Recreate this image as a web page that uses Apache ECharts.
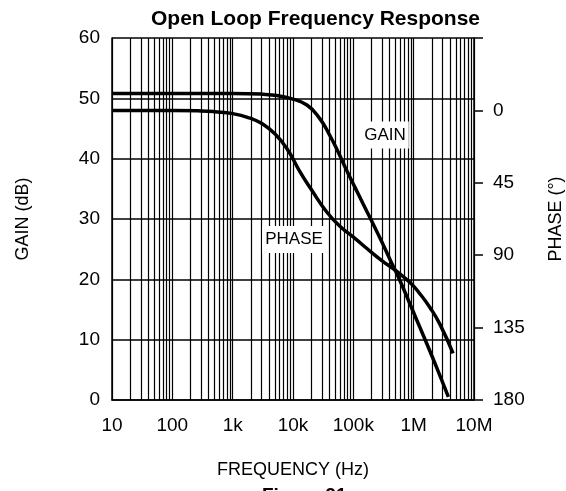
<!DOCTYPE html>
<html>
<head>
<meta charset="utf-8">
<script src="https://cdn.jsdelivr.net/npm/echarts@6/dist/echarts.min.js"></script>
<style>
  html, body { margin: 0; padding: 0; background: #fff; }
  #chart { width: 566px; height: 491px; }
</style>
</head>
<body>
<div id="chart"></div>
<script>
// 读图得到的数据：频率 (Hz) -> 增益 (dB)
const gainFreq = [10, 1000, 3000, 5000, 9000, 17000, 28000, 41000, 56000, 78000, 107000, 147000, 215000, 300000, 405000, 557000, 766000, 1120000, 1640000, 2400000, 3760000]
const gainDb = [50.8, 50.8, 50.7, 50.5, 50, 48.9, 46.6, 43.8, 41.1, 38, 35.2, 32.4, 29.1, 26.1, 23.3, 20.4, 17.2, 13.3, 9.4, 5.4, 0.5]

// 频率 (Hz) -> 相位 (°)
const phaseFreq = [10, 100, 300, 500, 1000, 2000, 3000, 5000, 8000, 13000, 20000, 36000, 60000, 110000, 170000, 300000, 500000, 870000, 1270000, 1860000, 2730000, 4500000]
const phaseDeg = [0, 0, 0.3, 0.8, 2, 5, 8, 14.5, 24, 38, 49, 63, 72, 80, 86, 93.5, 99.5, 107, 114, 122.5, 133, 151]

// 横轴刻度文字（按十倍频）
const freqTickLabels = ['1', '10', '100', '1k', '10k', '100k', '1M', '10M']

// 每个十倍频内 2..9 的细网格线
const minorFreqs = []
for (let d = 10; d < 1e7; d *= 10) {
  for (let m = 2; m <= 9; m++) minorFreqs.push(d * m)
}

const FONT = 'Liberation Sans, Arial, sans-serif'
const chart = echarts.init(document.getElementById('chart'))

chart.setOption({
  animation: false,
  backgroundColor: '#fff',
  title: [
    {
      text: 'Open Loop Frequency Response',
      left: 151,
      top: 9,
      padding: 0,
      textStyle: { fontFamily: FONT, fontSize: 21, fontWeight: 'bold', color: '#000' },
    },
    {
      text: 'Figure 21',
      left: 262,
      top: 486,
      padding: 0,
      textStyle: { fontFamily: FONT, fontSize: 19, fontWeight: 'bold', color: '#000' },
    },
  ],
  grid: { left: 112, right: 92, top: 38, bottom: 91, outerBoundsMode: 'none', containLabel: false },
  xAxis: {
    type: 'log',
    logBase: 10,
    min: 10,
    max: 1e7,
    splitNumber: 6,
    name: 'FREQUENCY (Hz)',
    nameLocation: 'middle',
    nameGap: 61,
    nameTextStyle: { fontFamily: FONT, fontSize: 18, color: '#000' },
    axisLine: { show: true, lineStyle: { color: '#000', width: 1.5 } },
    axisTick: { show: false },
    axisLabel: {
      margin: 16,
      fontFamily: FONT,
      fontSize: 19,
      color: '#000',
      formatter: (v) => freqTickLabels[Math.round(Math.log10(v))] || '',
    },
    splitLine: { show: true, lineStyle: { color: '#000', width: 1.2 } },
  },
  yAxis: [
    {
      type: 'value',
      min: 0,
      max: 60,
      interval: 10,
      name: 'GAIN (dB)',
      nameLocation: 'middle',
      nameRotate: 90,
      nameGap: 80,
      nameTextStyle: { fontFamily: FONT, fontSize: 18, color: '#000' },
      axisLine: { show: true, lineStyle: { color: '#000', width: 1.5 } },
      axisTick: { show: false },
      axisLabel: { margin: 12, fontFamily: FONT, fontSize: 19, color: '#000' },
      splitLine: { show: true, lineStyle: { color: '#000', width: 1.5 } },
    },
    {
      type: 'value',
      min: -45,
      max: 180,
      interval: 45,
      inverse: true,
      position: 'right',
      name: 'PHASE (°)',
      nameLocation: 'middle',
      nameRotate: 90,
      nameGap: 73,
      nameTextStyle: { fontFamily: FONT, fontSize: 18, color: '#000' },
      axisLine: { show: true, lineStyle: { color: '#000', width: 1.5 } },
      axisTick: { show: true, inside: false, length: 9, lineStyle: { color: '#000', width: 1.5 } },
      axisLabel: {
        margin: 19,
        fontFamily: FONT,
        fontSize: 19,
        color: '#000',
        formatter: (v) => (v < 0 ? '' : String(v)),
      },
      splitLine: { show: false },
    },
  ],
  series: [
    {
      name: 'GAIN',
      type: 'line',
      yAxisIndex: 0,
      data: gainFreq.map((f, i) => [f, gainDb[i]]),
      smooth: 0.5,
      symbol: 'none',
      lineStyle: { color: '#000', width: 3.5 },
      z: 5,
      // 细网格线
      markLine: {
        silent: true,
        symbol: 'none',
        label: { show: false },
        lineStyle: { color: '#000', width: 1.2, type: 'solid' },
        data: minorFreqs.map((f) => ({ xAxis: f })),
        z: 1,
      },
    },
    {
      name: 'PHASE',
      type: 'line',
      yAxisIndex: 1,
      data: phaseFreq.map((f, i) => [f, phaseDeg[i]]),
      smooth: 0.5,
      symbol: 'none',
      lineStyle: { color: '#000', width: 3.5 },
      z: 5,
    },
  ],
  graphic: [
    {
      type: 'text',
      z: 100,
      style: {
        text: 'GAIN',
        x: 385,
        y: 135,
        align: 'center',
        verticalAlign: 'middle',
        font: '17px ' + FONT,
        fill: '#000',
        backgroundColor: '#fff',
        padding: [5, 3],
      },
    },
    {
      type: 'text',
      z: 100,
      style: {
        text: 'PHASE',
        x: 294,
        y: 239.5,
        align: 'center',
        verticalAlign: 'middle',
        font: '17px ' + FONT,
        fill: '#000',
        backgroundColor: '#fff',
        padding: [5, 3],
      },
    },
  ],
})
</script>
</body>
</html>
